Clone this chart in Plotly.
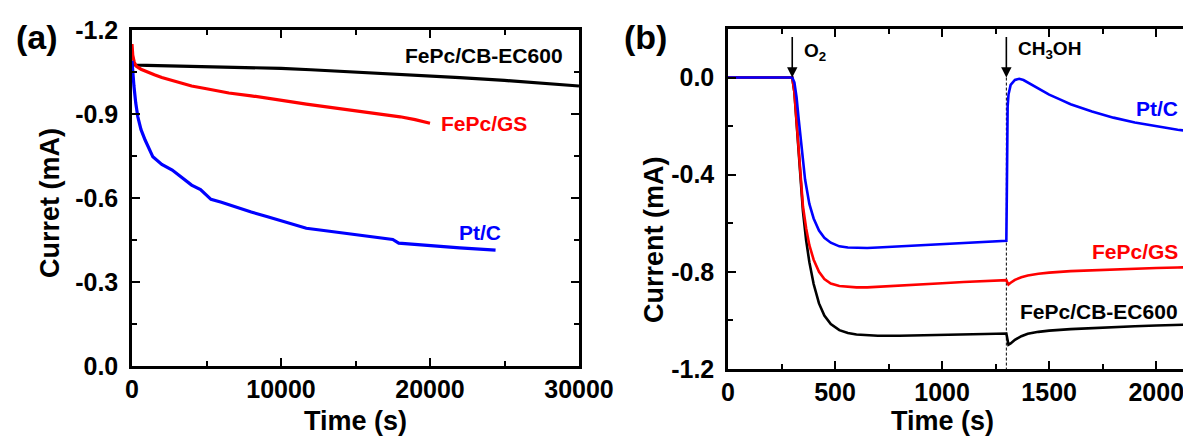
import plotly.graph_objects as go

# ---------------- Panel (a): long-term chronoamperometry ----------------
a_black_t = [0, 200, 1000, 3000, 5000, 8000, 10000, 12000, 15000, 18000, 20000, 22000, 25000, 27000, 30000]
a_black_i = [-1.08, -1.075, -1.074, -1.072, -1.07, -1.066, -1.063, -1.058, -1.05, -1.042, -1.036, -1.03, -1.02, -1.012, -1.0]

a_red_t = [0, 50, 150, 300, 600, 1000, 1500, 2000, 3000, 4000, 5000, 6500, 8000, 9000, 10500, 11700,
           13000, 14200, 15500, 16800, 18000, 19000, 20000]
a_red_i = [-1.15, -1.11, -1.085, -1.07, -1.06, -1.05, -1.04, -1.03, -1.015, -1.0, -0.99, -0.975, -0.965, -0.958,
           -0.945, -0.935, -0.926, -0.917, -0.908, -0.9, -0.89, -0.88, -0.867]

a_blue_t = [0, 50, 130, 250, 390, 600, 880, 1400, 2000, 2700, 3300, 4000, 4600, 5300, 6000, 6550, 8000, 9100,
            10500, 11700, 13000, 14250, 15500, 16800, 17500, 17900, 19000, 20100, 22000, 24400]
a_blue_i = [-1.09, -1.05, -1.0, -0.94, -0.89, -0.845, -0.807, -0.747, -0.72, -0.70, -0.675, -0.646, -0.63, -0.595,
            -0.585, -0.575, -0.55, -0.533, -0.51, -0.492, -0.483, -0.474, -0.465, -0.457, -0.452, -0.439, -0.434,
            -0.429, -0.422, -0.414]

# ---------------- Panel (b): O2 then CH3OH injection ----------------
o2_time = 300
methanol_time = 1300

b_black_t = [0, 300, 310, 320, 335, 350, 365, 380, 400, 425, 450, 480, 520, 560, 600, 650, 700, 800, 900, 1000,
             1100, 1200, 1300, 1303, 1310, 1320, 1340, 1370, 1400, 1450, 1500, 1600, 1700, 1800, 1900, 2000, 2100, 2200]
b_black_i = [0, 0, -0.06, -0.18, -0.38, -0.55, -0.67, -0.76, -0.85, -0.93, -0.98, -1.015, -1.04, -1.052, -1.058,
             -1.062, -1.063, -1.063, -1.062, -1.06, -1.058, -1.056, -1.054, -1.07, -1.10, -1.095, -1.08, -1.065,
             -1.055, -1.047, -1.042, -1.036, -1.031, -1.027, -1.024, -1.021, -1.018, -1.016]

b_red_t = [0, 300, 310, 320, 335, 350, 365, 380, 400, 425, 450, 480, 520, 560, 600, 650, 700, 800, 900, 1000,
           1100, 1200, 1300, 1303, 1310, 1320, 1340, 1370, 1400, 1450, 1500, 1600, 1700, 1800, 1900, 2000, 2100, 2200]
b_red_i = [0, 0, -0.06, -0.18, -0.38, -0.53, -0.62, -0.69, -0.75, -0.80, -0.83, -0.848, -0.858, -0.862, -0.864,
           -0.864, -0.862, -0.857, -0.852, -0.847, -0.842, -0.838, -0.834, -0.84, -0.852, -0.845, -0.833, -0.822,
           -0.815, -0.808, -0.803, -0.797, -0.793, -0.79, -0.787, -0.784, -0.782, -0.78]

b_blue_t = [0, 300, 310, 320, 330, 345, 360, 380, 400, 425, 450, 480, 520, 560, 600, 650, 700, 800, 900, 1000,
            1100, 1200, 1300, 1302, 1304, 1306, 1310, 1320, 1340, 1360, 1380, 1400, 1450, 1500, 1550, 1600, 1700,
            1800, 1900, 2000, 2100, 2200]
b_blue_i = [0, 0, -0.02, -0.08, -0.17, -0.30, -0.42, -0.52, -0.58, -0.63, -0.66, -0.68, -0.695, -0.700, -0.702,
            -0.702, -0.700, -0.695, -0.690, -0.685, -0.680, -0.676, -0.672, -0.5, -0.25, -0.12, -0.07, -0.03, -0.01,
            -0.005, -0.01, -0.02, -0.045, -0.07, -0.09, -0.11, -0.14, -0.165, -0.185, -0.20, -0.215, -0.225]

# tick labels
a_xticks = [0, 10000, 20000, 30000]
a_xminor = [5000, 15000, 25000]
a_yticks = [-1.2, -0.9, -0.6, -0.3, 0.0]
a_yminor = [-1.05, -0.75, -0.45, -0.15]
b_xticks = [0, 500, 1000, 1500, 2000]
b_xminor = [250, 750, 1250, 1750]
b_yticks = [-1.2, -0.8, -0.4, 0.0]
b_yminor = [-1.0, -0.6, -0.2]

W, H = 1183, 438
FONT = "Liberation Sans, Arial, sans-serif"

fig = go.Figure()

def add(t, i, color, ax, width):
    fig.add_trace(go.Scatter(x=t, y=i, mode="lines", line=dict(color=color, width=width),
                             xaxis=ax[0], yaxis=ax[1], showlegend=False, hoverinfo="skip"))

add(a_black_t, a_black_i, "#000000", ("x", "y"), 3.2)
add(a_red_t, a_red_i, "#FF0000", ("x", "y"), 3.2)
add(a_blue_t, a_blue_i, "#0000FF", ("x", "y"), 3.2)

fig.add_trace(go.Scatter(x=[methanol_time, methanol_time], y=[0, -1.2], mode="lines",
                         line=dict(color="#000000", width=1, dash="3px,2px"),
                         xaxis="x2", yaxis="y2", showlegend=False, hoverinfo="skip"))
add(b_black_t, b_black_i, "#000000", ("x2", "y2"), 2.6)
add(b_red_t, b_red_i, "#FF0000", ("x2", "y2"), 2.6)
add(b_blue_t, b_blue_i, "#0000FF", ("x2", "y2"), 2.6)

tickfont = dict(family=FONT, size=25, color="black", weight="bold")

def axis(domain, rng, tickvals, minorvals, mirror, anchor, fmt, standoff):
    return dict(
        domain=domain, range=rng, anchor=anchor, automargin=False,
        tickmode="array", tickvals=tickvals, ticktext=[fmt(v) for v in tickvals],
        ticks="inside", ticklen=8, tickwidth=2, tickcolor="black",
        minor=dict(tickmode="array", tickvals=minorvals, ticks="inside", ticklen=5, tickwidth=2,
                   tickcolor="black", showgrid=False),
        showline=True, linewidth=2.5, linecolor="black", mirror=mirror,
        showgrid=False, zeroline=False, tickfont=tickfont, ticklabelstandoff=standoff,
        ticklabeloverflow="allow",
    )

intfmt = lambda v: f"{int(v)}"
decfmt = lambda v: f"{v:.1f}".replace("-0.0", "0.0")

fig.update_layout(
    width=W, height=H, margin=dict(l=0, r=0, t=0, b=0, autoexpand=False),
    paper_bgcolor="white", plot_bgcolor="white",
    xaxis=axis([132 / W, 579 / W], [0, 30000], a_xticks, a_xminor, "ticks", "y", intfmt, -1),
    yaxis=axis([1 - 366 / H, 1 - 30 / H], [0, -1.2], a_yticks, a_yminor, "ticks", "x", decfmt, 6),
    xaxis2=axis([728 / W, 1.0], [0, 2125], b_xticks, b_xminor, "ticks", "y2", intfmt, -1),
    yaxis2=axis([1 - 369 / H, 1 - 29 / H], [-1.2, 0.2], b_yticks, b_yminor, False, "x2", decfmt, 6),
)

def txt(text, x, y, size, color="black", xref="paper", yref="paper", xanchor="center", yanchor="middle", angle=0):
    fig.add_annotation(text=text, x=x, y=y, xref=xref, yref=yref, xanchor=xanchor, yanchor=yanchor,
                       showarrow=False, textangle=angle,
                       font=dict(family=FONT, size=size, color=color, weight="bold"))

# panel letters
txt("(a)", 37 / W, 1 - 37 / H, 34)
txt("(b)", 645 / W, 1 - 37 / H, 34)
# axis titles
txt("Time (s)", 355 / W, 1 - 421 / H, 27)
txt("Time (s)", 942 / W, 1 - 421 / H, 27)
txt("Curret (mA)", 50 / W, 1 - 203 / H, 27, angle=-90)
txt("Current (mA)", 654 / W, 1 - 240 / H, 27, angle=-90)
# series labels panel a
txt("FePc/CB-EC600", 484 / W, 1 - 55 / H, 21)
txt("FePc/GS", 484 / W, 1 - 123 / H, 21, color="#FF0000")
txt("Pt/C", 480 / W, 1 - 232 / H, 21, color="#0000FF")
# series labels panel b
txt("Pt/C", 1180 / W, 1 - 108 / H, 21, color="#0000FF", xanchor="right")
txt("FePc/GS", 1180 / W, 1 - 251 / H, 21, color="#FF0000", xanchor="right")
txt("FePc/CB-EC600", 1180 / W, 1 - 311 / H, 21, xanchor="right")

# injection arrows
for t in (o2_time, methanol_time):
    fig.add_annotation(x=t, y=0, xref="x2", yref="y2", ax=0, ay=-42, axref="pixel", ayref="pixel",
                       text="", showarrow=True, arrowhead=2, arrowsize=1.3, arrowwidth=1.6,
                       arrowcolor="black", standoff=0)
txt("O<sub>2</sub>", 802 / W, 1 - 52 / H, 19, xanchor="left")
txt("CH<sub>3</sub>OH", 1016 / W, 1 - 50 / H, 19, xanchor="left")

fig.write_html("out.html", config={"displayModeBar": False},
               post_script="document.body.style.margin='0';document.body.style.padding='0';"
                           "document.body.style.overflow='hidden';")
